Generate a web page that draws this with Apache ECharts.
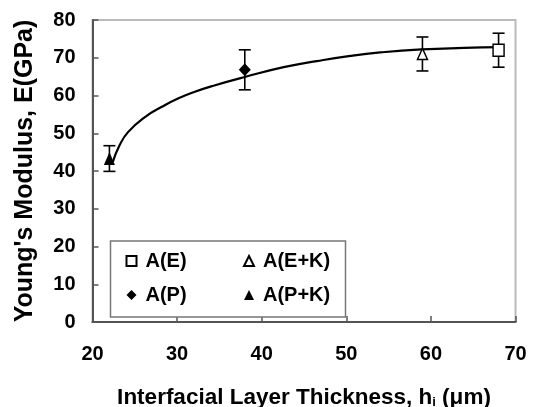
<!DOCTYPE html>
<html><head><meta charset="utf-8">
<script src="https://cdn.jsdelivr.net/npm/echarts@6/dist/echarts.min.js"></script>
<style>html,body{margin:0;padding:0;background:#fff}#c{width:535px;height:407px}</style>
</head><body><div id="c"></div>
<script>
// ---- data ----
const seriesNames = ['A(E)', 'A(P)', 'A(E+K)', 'A(P+K)'];
const aE_x = [68];   const aE_y = [72.0];  const aE_err = [4.5];
const aP_x = [38];   const aP_y = [66.8];  const aP_err = [5.3];
const aEK_x = [59];  const aEK_y = [71.0]; const aEK_err = [4.5];
const aPK_x = [22];  const aPK_y = [43.3]; const aPK_err = [3.4];
const curveX = [22.4, 23.2, 24.2, 26.2, 28.2, 30.1, 32.1, 34.3, 38.0, 42.6, 46.5, 50.5, 54.0, 58.9, 63.9, 68.2];
const curveY = [42.4, 46.8, 50.3, 54.3, 57.0, 59.2, 61.0, 62.6, 64.9, 67.5, 69.1, 70.5, 71.4, 72.2, 72.6, 72.8];
const xTicks = [20, 30, 40, 50, 60, 70];
const yTicks = [0, 10, 20, 30, 40, 50, 60, 70, 80];

const FONT = 'Liberation Sans, Arial, sans-serif';
const zip = (xs, ys) => xs.map((x, i) => [x, ys[i]]);
const errData = [];
[[aE_x, aE_y, aE_err], [aP_x, aP_y, aP_err], [aEK_x, aEK_y, aEK_err], [aPK_x, aPK_y, aPK_err]].forEach(([xs, ys, es]) => {
  xs.forEach((x, i) => errData.push([x, ys[i] - es[i], ys[i] + es[i]]));
});

const chart = echarts.init(document.getElementById('c'), null, {renderer: 'canvas'});
const markerBase = {type: 'scatter', z: 5};
chart.setOption({
  animation: false,
  backgroundColor: '#fff',
  grid: {left: 92.5, right: 19.5, top: 20, bottom: 85, containLabel: false, outerBoundsMode: 'none',
         show: true, borderColor: '#bbbbbb', borderWidth: 2, backgroundColor: 'transparent'},
  xAxis: {
    type: 'value', min: xTicks[0], max: xTicks[xTicks.length - 1], interval: 10,
    name: 'Interfacial Layer Thickness, h{s|i} (μm)', nameLocation: 'middle', nameGap: 64,
    nameTextStyle: {fontFamily: FONT, fontSize: 22.5, fontWeight: 'bold', color: '#000',
      rich: {s: {fontFamily: FONT, fontSize: 13, fontWeight: 'bold', color: '#000', verticalAlign: 'bottom', lineHeight: 13}}},
    axisLine: {lineStyle: {color: '#555', width: 2}},
    axisTick: {inside: true, length: 6, lineStyle: {color: '#555', width: 1.5}},
    axisLabel: {margin: 22, fontFamily: FONT, fontSize: 20, fontWeight: 'bold', color: '#000'},
    splitLine: {show: false}
  },
  yAxis: {
    type: 'value', min: yTicks[0], max: yTicks[yTicks.length - 1], interval: 10,
    name: "Young's Modulus, E(GPa)", nameLocation: 'middle', nameGap: 55,
    nameTextStyle: {fontFamily: FONT, fontSize: 25, fontWeight: 'bold', color: '#000'},
    axisLine: {lineStyle: {color: '#555', width: 2}},
    axisTick: {inside: true, length: 6, lineStyle: {color: '#555', width: 1.5}},
    axisLabel: {margin: 17, fontFamily: FONT, fontSize: 20, fontWeight: 'bold', color: '#000'},
    splitLine: {show: false}
  },
  legend: [
    {data: [seriesNames[0], seriesNames[1]], orient: 'vertical', left: 110.5, top: 241,
     padding: [10, 140, 12, 15], itemGap: 14, itemWidth: 10, itemHeight: 10,
     borderColor: '#777', borderWidth: 1.5, backgroundColor: '#fff',
     textStyle: {fontFamily: FONT, fontSize: 20, fontWeight: 'bold', color: '#000', lineHeight: 20, width: 60, padding: [0, 0, 0, 4]}},
    {data: [seriesNames[2], seriesNames[3]], orient: 'vertical', left: 243, top: 251,
     padding: 0, itemGap: 14, itemWidth: 10, itemHeight: 10,
     textStyle: {fontFamily: FONT, fontSize: 20, fontWeight: 'bold', color: '#000', lineHeight: 20, padding: [0, 0, 0, 4]}}
  ],
  series: [
    {type: 'line', name: 'fit', data: zip(curveX, curveY), smooth: 0.5, showSymbol: false,
     lineStyle: {color: '#000', width: 2.2}, z: 3},
    {type: 'custom', name: 'err', data: errData, z: 4,
     renderItem: function (params, api) {
       const lo = api.coord([api.value(0), api.value(1)]);
       const hi = api.coord([api.value(0), api.value(2)]);
       const w = 6;
       const st = {stroke: '#000', lineWidth: 1.6};
       return {type: 'group', children: [
         {type: 'line', shape: {x1: lo[0], y1: lo[1], x2: hi[0], y2: hi[1]}, style: st},
         {type: 'line', shape: {x1: lo[0] - w, y1: lo[1], x2: lo[0] + w, y2: lo[1]}, style: st},
         {type: 'line', shape: {x1: hi[0] - w, y1: hi[1], x2: hi[0] + w, y2: hi[1]}, style: st}
       ]};
     }},
    Object.assign({}, markerBase, {name: seriesNames[0], data: zip(aE_x, aE_y), symbol: 'rect', symbolSize: [11, 12],
      itemStyle: {color: '#fff', borderColor: '#000', borderWidth: 1.5, opacity: 1}}),
    Object.assign({}, markerBase, {name: seriesNames[1], data: zip(aP_x, aP_y), symbol: 'diamond', symbolSize: [12, 13],
      itemStyle: {color: '#000', opacity: 1}}),
    Object.assign({}, markerBase, {name: seriesNames[2], data: zip(aEK_x, aEK_y), symbol: 'triangle', symbolSize: [10, 11],
      itemStyle: {color: '#fff', borderColor: '#000', borderWidth: 1.5, opacity: 1}}),
    Object.assign({}, markerBase, {name: seriesNames[3], data: zip(aPK_x, aPK_y), symbol: 'triangle', symbolSize: [11, 13],
      itemStyle: {color: '#000', opacity: 1}})
  ]
});
</script></body></html>
